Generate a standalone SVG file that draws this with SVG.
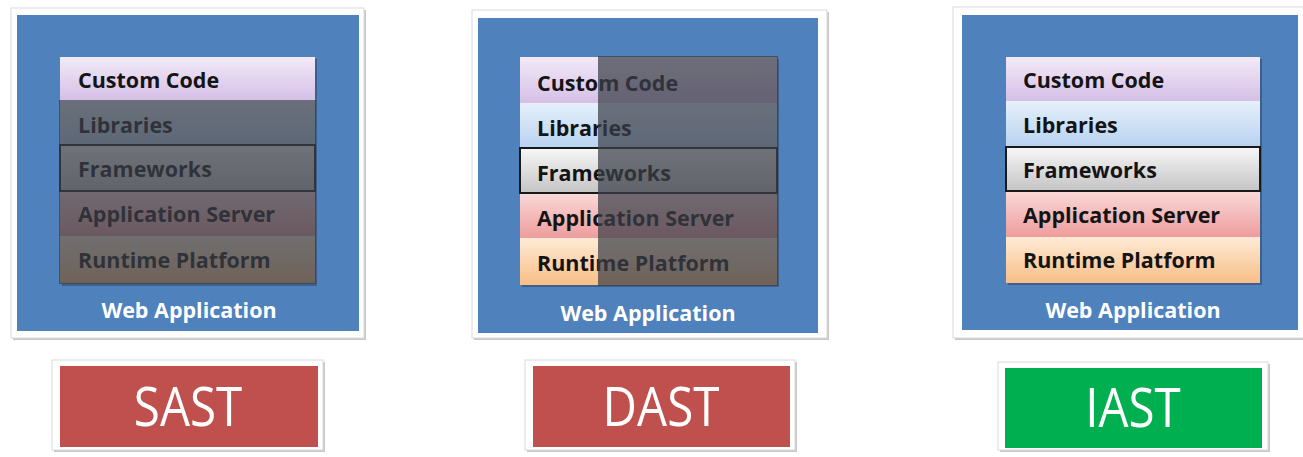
<svg xmlns="http://www.w3.org/2000/svg" width="1303" height="457" viewBox="0 0 1303 457">
<defs>
<linearGradient id="gCustom" x1="0" y1="0" x2="0" y2="1"><stop offset="0" stop-color="#F3EAF8"/><stop offset="1" stop-color="#D5BFE6"/></linearGradient>
<linearGradient id="gLib" x1="0" y1="0" x2="0" y2="1"><stop offset="0" stop-color="#E6F0FB"/><stop offset="1" stop-color="#B8D2F0"/></linearGradient>
<linearGradient id="gFw" x1="0" y1="0" x2="0" y2="1"><stop offset="0" stop-color="#F7F7F7"/><stop offset="1" stop-color="#C4C4C4"/></linearGradient>
<linearGradient id="gApp" x1="0" y1="0" x2="0" y2="1"><stop offset="0" stop-color="#FAD9D9"/><stop offset="1" stop-color="#EE9C9C"/></linearGradient>
<linearGradient id="gRt" x1="0" y1="0" x2="0" y2="1"><stop offset="0" stop-color="#FEEBD6"/><stop offset="1" stop-color="#F8BE86"/></linearGradient>
<style>
.frame{fill:#ffffff;stroke:#d9d9d9;stroke-width:1}
.shadow{fill:#c8c8c8}
.blue{fill:#4F81BD}
.lt{font-family:"Open Sans","Liberation Sans",sans-serif;font-weight:bold;font-size:21.5px;fill:#141414}
.wa{font-family:"Open Sans","Liberation Sans",sans-serif;font-weight:bold;font-size:21.5px;fill:#ffffff;text-anchor:middle}
.big{font-family:"Open Sans","Liberation Sans",sans-serif;font-size:54px;fill:#ffffff;text-anchor:middle}
.c{fill:url(#gCustom)}
.l{fill:url(#gLib)}
.f{fill:url(#gFw);stroke:#1a1a1a;stroke-width:2}
.a{fill:url(#gApp)}
.r{fill:url(#gRt)}
.dark{fill:#3a3f48;fill-opacity:0.72}
.red{fill:#C0504D}
.green{fill:#00B050}
.lshadow{fill:#2d3d55;opacity:0.5}
</style>
</defs>

<g id="panel-sast">
<rect class="shadow" x="13" y="10" width="353" height="330"/>
<rect class="frame" x="11" y="8" width="353" height="330"/>
<rect class="blue" x="17" y="15" width="342" height="316"/>
<rect class="lshadow" x="62" y="59" width="255" height="227"/>
<rect class="c" x="60" y="57" width="255" height="43"/>
<rect class="l" x="60" y="100" width="255" height="45"/>
<rect class="a" x="60" y="191" width="255" height="45"/>
<rect class="r" x="60" y="236" width="255" height="47"/>
<rect class="f" x="60" y="145" width="255" height="46"/>
<text class="lt" x="78" y="88">Custom Code</text>
<text class="lt" x="78" y="133">Libraries</text>
<text class="lt" x="78" y="177">Frameworks</text>
<text class="lt" x="78" y="222">Application Server</text>
<text class="lt" x="78" y="268">Runtime Platform</text>
<rect class="dark" x="59" y="100" width="257" height="184"/>
<text class="wa" x="189" y="318">Web Application</text>
</g>

<g id="panel-dast">
<rect class="shadow" x="474" y="12" width="355" height="328"/>
<rect class="frame" x="472" y="10" width="355" height="328"/>
<rect class="blue" x="478" y="18" width="340" height="315"/>
<rect class="lshadow" x="522" y="59" width="257" height="228"/>
<rect class="c" x="520" y="57" width="257" height="46"/>
<rect class="l" x="520" y="103" width="257" height="45"/>
<rect class="a" x="520" y="193" width="257" height="45"/>
<rect class="r" x="520" y="238" width="257" height="47"/>
<rect class="f" x="520" y="148" width="257" height="45"/>
<text class="lt" x="537" y="91">Custom Code</text>
<text class="lt" x="537" y="136">Libraries</text>
<text class="lt" x="537" y="181">Frameworks</text>
<text class="lt" x="537" y="226">Application Server</text>
<text class="lt" x="537" y="271">Runtime Platform</text>
<rect class="dark" x="598" y="56" width="180" height="230"/>
<text class="wa" x="648" y="321">Web Application</text>
</g>

<g id="panel-iast">
<rect class="shadow" x="955" y="9" width="352" height="331"/>
<rect class="frame" x="953" y="7" width="352" height="331"/>
<rect class="blue" x="962" y="15" width="336" height="315"/>
<rect class="lshadow" x="1008" y="59" width="254" height="226"/>
<rect class="c" x="1006" y="57" width="254" height="44"/>
<rect class="l" x="1006" y="101" width="254" height="46"/>
<rect class="a" x="1006" y="191" width="254" height="46"/>
<rect class="r" x="1006" y="237" width="254" height="46"/>
<rect class="f" x="1006" y="147" width="254" height="44"/>
<text class="lt" x="1023" y="88">Custom Code</text>
<text class="lt" x="1023" y="133">Libraries</text>
<text class="lt" x="1023" y="178">Frameworks</text>
<text class="lt" x="1023" y="223">Application Server</text>
<text class="lt" x="1023" y="268">Runtime Platform</text>
<text class="wa" x="1133" y="318">Web Application</text>
</g>

<g id="label-sast">
<rect class="shadow" x="54" y="362" width="271" height="90"/>
<rect class="frame" x="52" y="360" width="271" height="90"/>
<rect class="red" x="60" y="366" width="258" height="81"/>
<text class="big" transform="translate(188 426) scale(0.88 1)">SAST</text>
</g>

<g id="label-dast">
<rect class="shadow" x="527" y="362" width="270" height="90"/>
<rect class="frame" x="525" y="360" width="270" height="90"/>
<rect class="red" x="533" y="366" width="257" height="81"/>
<text class="big" transform="translate(661 426) scale(0.88 1)">DAST</text>
</g>

<g id="label-iast">
<rect class="shadow" x="1000" y="364" width="270" height="88"/>
<rect class="frame" x="998" y="362" width="270" height="88"/>
<rect class="green" x="1005" y="368" width="257" height="80"/>
<text class="big" transform="translate(1133 427) scale(0.88 1)">IAST</text>
</g>

<g id="connectors"/>
</svg>
